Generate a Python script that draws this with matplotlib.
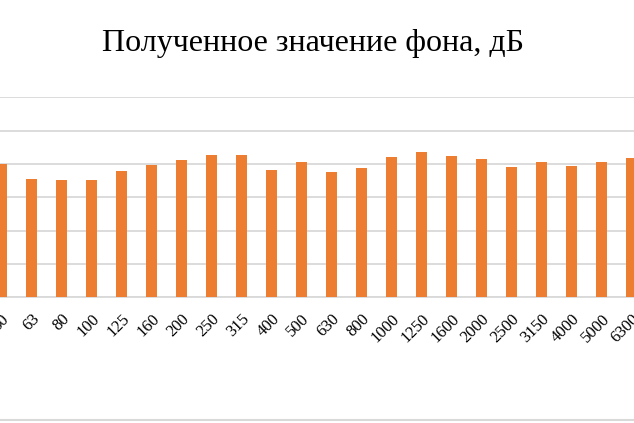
import matplotlib.pyplot as plt
from matplotlib.lines import Line2D

# third-octave bands, Hz
freqs = ['50', '63', '80', '100', '125', '160', '200', '250', '315', '400', '500',
         '630', '800', '1000', '1250', '1600', '2000', '2500', '3150', '4000', '5000', '6300']
# background level, dB
levels = [40.0, 35.5, 35.2, 35.2, 38.0, 39.7, 41.2, 42.7, 42.7, 38.2, 40.7,
          37.6, 38.8, 42.1, 43.6, 42.4, 41.5, 39.1, 40.6, 39.4, 40.6, 41.8]

plt.rcParams['font.family'] = ['Liberation Serif', 'DejaVu Serif']

W, H = 634, 423
fig = plt.figure(figsize=(W / 100, H / 100), dpi=100)
# the chart is cropped on both sides, so the axes run past the figure edges
ax = fig.add_axes([-13.5 / W, 125.7 / H, 660 / W, 200 / H])

x = range(len(freqs))
ax.bar(x, levels, width=0.34, color='#ED7D31', zorder=3)
ax.set_xlim(-0.5, len(freqs) - 0.5)
ax.set_ylim(0, 60)
ax.set_yticks(range(0, 61, 10))
ax.yaxis.grid(True, color='#d9d9d9', linewidth=1.3, zorder=0)
ax.tick_params(axis='y', left=False, labelleft=False)
ax.tick_params(axis='x', length=0, pad=10)
ax.set_xticks(list(x))
ax.set_xticklabels(freqs, rotation=45, ha='right', rotation_mode='anchor', fontsize=12)
for side in ['top', 'left', 'right']:
    ax.spines[side].set_visible(False)
ax.spines['bottom'].set_color('#d9d9d9')
ax.spines['bottom'].set_linewidth(1.3)

fig.text(0.493, 1 - 44 / H, 'Полученное значение фона, дБ', ha='center', va='center', fontsize=23)
fig.add_artist(Line2D([0, 1], [3 / H, 3 / H], color='#d9d9d9', linewidth=1.5))

fig.savefig('out.png', dpi=100)
